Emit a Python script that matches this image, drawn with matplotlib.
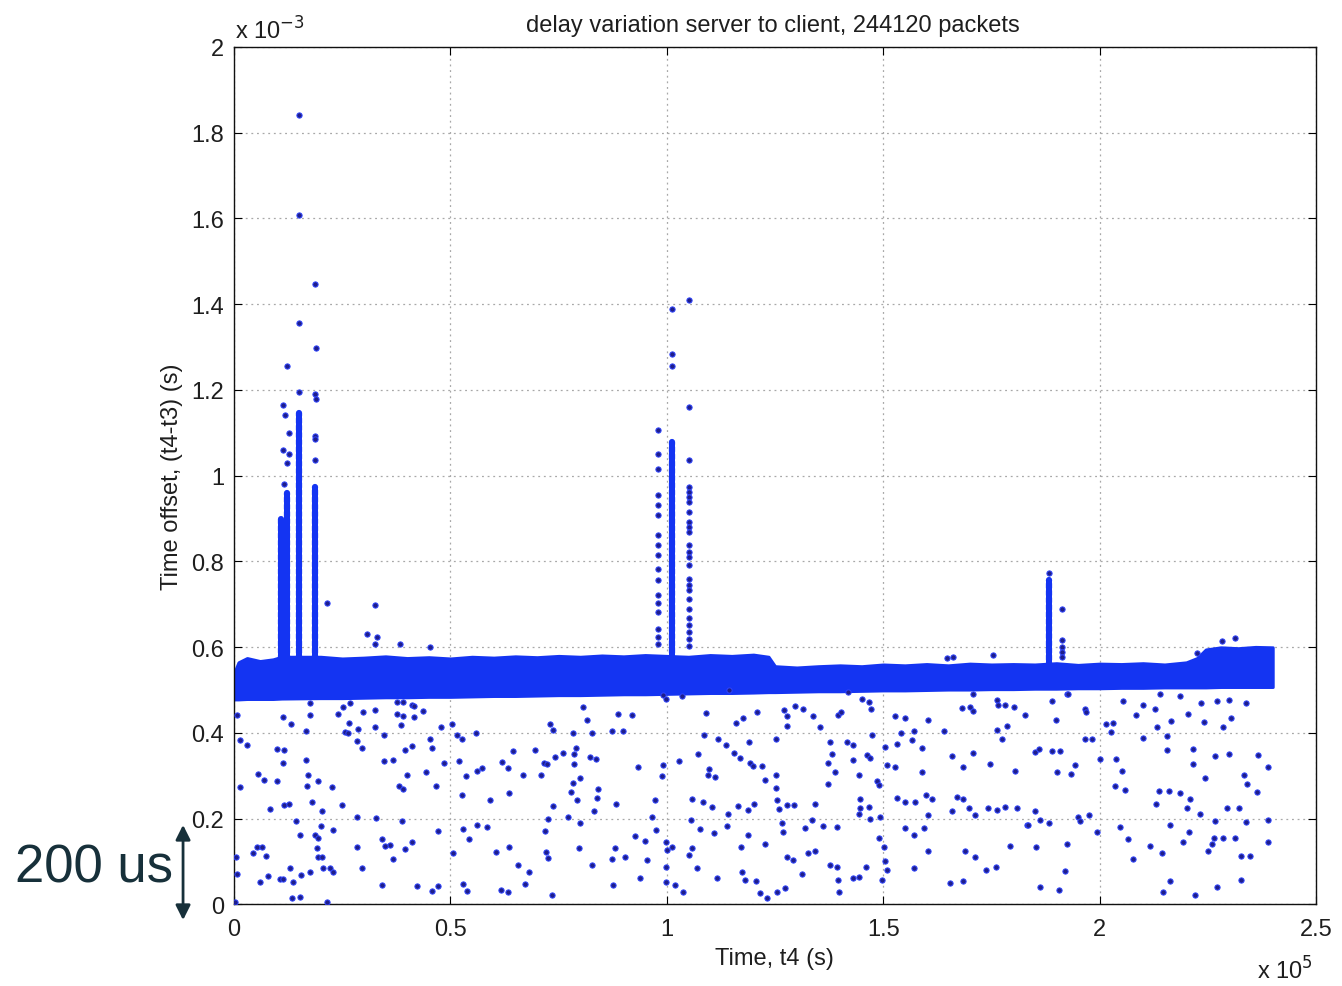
"""Delay variation scatter (server to client), MATLAB-style look."""

import matplotlib

matplotlib.use("Agg")
import matplotlib.pyplot as plt

plt.rcParams["font.family"] = ["Liberation Sans", "DejaVu Sans"]

# units: x in 1e5 s, y in 1e-3 s
# dense band of packets (upper / lower edge)
band_x = [0.00, 0.01, 0.03, 0.06, 0.09, 0.11, 0.20, 0.25, 0.30, 0.35, 0.40, 0.45,
          0.50, 0.55, 0.60, 0.65, 0.70, 0.75, 0.80, 0.85, 0.90, 0.95, 1.00, 1.05,
          1.10, 1.15, 1.20, 1.235, 1.25, 1.30, 1.35, 1.40, 1.45, 1.50, 1.55, 1.60,
          1.65, 1.70, 1.75, 1.80, 1.85, 1.90, 1.95, 2.00, 2.05, 2.10, 2.15, 2.20,
          2.225, 2.245, 2.28, 2.32, 2.36, 2.40]
band_hi = [0.540, 0.565, 0.575, 0.568, 0.572, 0.578, 0.578, 0.574, 0.576, 0.579, 0.575, 0.577,
           0.574, 0.578, 0.576, 0.579, 0.577, 0.580, 0.578, 0.581, 0.579, 0.582, 0.580, 0.578,
           0.582, 0.580, 0.583, 0.578, 0.556, 0.553, 0.556, 0.558, 0.556, 0.560, 0.558, 0.561,
           0.558, 0.562, 0.560, 0.561, 0.560, 0.563, 0.559, 0.562, 0.561, 0.563, 0.560, 0.565,
           0.575, 0.595, 0.600, 0.598, 0.601, 0.600]
band_lo = [0.478, 0.478, 0.479, 0.479, 0.479, 0.480, 0.481, 0.481, 0.482, 0.483, 0.483, 0.484,
           0.484, 0.485, 0.486, 0.486, 0.487, 0.488, 0.488, 0.489, 0.490, 0.490, 0.491, 0.492,
           0.493, 0.493, 0.494, 0.495, 0.495, 0.496, 0.497, 0.497, 0.498, 0.499, 0.499, 0.500,
           0.501, 0.501, 0.502, 0.502, 0.503, 0.503, 0.504, 0.504, 0.505, 0.505, 0.506, 0.506,
           0.506, 0.506, 0.507, 0.507, 0.507, 0.507]

# dense vertical bursts
spike_x = [0.108, 0.122, 0.149, 0.188, 1.011, 1.882]
spike_base = [0.57, 0.57, 0.57, 0.57, 0.57, 0.555]
spike_top = [0.90, 0.96, 1.147, 0.974, 1.078, 0.756]

# sparse packets inside / above the bursts
burst_x = [0.114, 0.122, 0.118, 0.126, 0.114, 0.122, 0.116, 0.128,
           0.149, 0.149, 0.149, 0.149,
           0.187, 0.189, 0.186, 0.189, 0.188, 0.188, 0.188,
           0.980, 0.980, 0.980, 0.980, 0.980, 0.980, 0.980, 0.980, 0.980,
           0.980, 0.980, 0.980, 0.980, 0.980, 0.980, 0.980, 0.980,
           1.013, 1.013, 1.013,
           1.050, 1.050, 1.050, 1.050, 1.050, 1.050, 1.050, 1.050, 1.050,
           1.050, 1.050, 1.050, 1.050, 1.050, 1.050, 1.050, 1.050, 1.050,
           1.050, 1.050, 1.050, 1.050, 1.050, 1.050, 1.050,
           1.882, 1.914, 1.914, 1.914, 1.914, 1.914]
burst_y = [1.166, 1.256, 1.142, 1.100, 1.060, 1.030, 0.980, 1.050,
           1.196, 1.356, 1.607, 1.841,
           1.448, 1.297, 1.190, 1.178, 1.093, 1.085, 1.036,
           1.106, 1.051, 1.016, 0.954, 0.931, 0.908, 0.861, 0.838, 0.814,
           0.783, 0.756, 0.721, 0.702, 0.682, 0.643, 0.624, 0.608,
           1.389, 1.284, 1.256,
           1.409, 1.160, 1.036, 0.974, 0.962, 0.950, 0.939, 0.915, 0.892,
           0.880, 0.869, 0.838, 0.822, 0.810, 0.791, 0.760, 0.744, 0.733,
           0.713, 0.690, 0.667, 0.651, 0.636, 0.620, 0.604,
           0.772, 0.690, 0.616, 0.601, 0.590, 0.578]

# isolated packets above the band
high_x = [0.215, 0.326, 0.307, 0.330, 0.326, 0.384, 0.453, 1.754, 1.647, 1.662,
          2.282, 2.313, 2.224]
high_y = [0.704, 0.698, 0.632, 0.624, 0.608, 0.608, 0.601, 0.581, 0.575, 0.577,
          0.614, 0.622, 0.587]

# isolated packets below the band
low_x = [0.176, 0.268, 0.251, 0.241, 0.006, 0.114, 0.176, 0.131, 0.266, 0.297, 0.326, 0.376,
         0.391, 0.410, 0.416, 0.376, 0.391, 0.416, 0.436, 0.386, 0.326, 0.166, 0.256, 0.264,
         0.286, 0.283, 0.295, 0.347, 0.453, 0.457, 0.478, 0.503, 0.514, 0.526, 0.559, 0.014,
         0.029, 0.099, 0.116, 0.114, 0.166, 0.172, 0.056, 0.070, 0.100, 0.014, 0.169, 0.195,
         0.226, 0.347, 0.368, 0.395, 0.410, 0.444, 0.382, 0.391, 0.400, 0.466, 0.484, 0.519,
         0.526, 0.535, 0.561, 0.574, 0.591, 0.618, 0.634, 0.636, 0.644, 0.667, 0.695, 0.709,
         0.715, 0.724, 0.729, 0.736, 0.742, 0.759, 0.784, 0.786, 0.790, 0.786, 0.799, 0.784,
         0.778, 0.792, 0.842, 0.838, 0.823, 0.836, 0.826, 0.815, 0.807, 0.873, 0.886, 0.898,
         0.883, 0.832, 0.736, 0.726, 0.719, 0.772, 0.799, 0.796, 0.721, 0.726, 0.826, 0.873,
         0.880, 0.903, 0.876, 0.734, 0.635, 0.657, 0.682, 0.673, 0.634, 0.616, 0.605, 0.561,
         0.584, 0.544, 0.528, 0.505, 0.530, 0.538, 0.457, 0.471, 0.471, 0.410, 0.395, 0.368,
         0.360, 0.349, 0.341, 0.283, 0.295, 0.341, 0.422, 0.389, 0.327, 0.283, 0.250, 0.203,
         0.179, 0.116, 0.126, 0.142, 0.083, 0.152, 0.187, 0.195, 0.191, 0.195, 0.203, 0.200,
         0.228, 0.205, 0.222, 0.228, 0.176, 0.154, 0.129, 0.106, 0.112, 0.136, 0.059, 0.079,
         0.043, 0.052, 0.064, 0.074, 0.005, 0.006, 0.133, 0.152, 0.214, 0.002,
         0.992, 0.998, 1.036, 1.144, 0.919, 1.091, 1.160, 1.177, 1.208, 1.271, 1.278, 1.296,
         1.315, 1.337, 1.277, 1.354, 1.396, 1.402, 1.419, 1.450, 1.466, 1.471, 1.527, 1.550,
         1.604, 1.640, 1.681, 1.701, 1.707, 1.708, 1.762, 1.766, 1.781, 1.801, 1.828, 1.762,
         1.774, 1.785, 1.086, 1.119, 1.137, 1.154, 1.169, 1.190, 1.251, 1.191, 1.198, 1.219,
         1.227, 1.251, 1.251, 1.254, 1.258, 1.277, 1.293, 1.342, 1.376, 1.381, 1.373, 1.389,
         1.373, 1.417, 1.429, 1.429, 1.463, 1.470, 1.443, 1.485, 1.489, 1.473, 1.508, 1.527,
         1.504, 1.531, 1.540, 1.570, 1.566, 1.589, 1.589, 1.599, 1.612, 1.604, 1.658, 1.684,
         1.708, 1.747, 1.805, 1.670, 1.685, 1.697, 1.712, 1.658, 1.743, 1.762, 1.781, 1.808,
         1.831, 1.531, 1.550, 1.574, 1.593, 1.570, 1.550, 1.493, 1.470, 1.489, 1.502, 1.504,
         1.508, 1.498, 1.446, 1.443, 1.468, 1.446, 1.392, 1.360, 1.335, 1.319, 1.327, 1.342,
         1.277, 1.292, 1.201, 1.188, 1.165, 1.142, 1.138, 1.108, 1.096, 1.111, 1.098, 1.077,
         1.057, 1.084, 1.104, 1.073, 1.028, 0.990, 0.988, 0.934, 0.973, 0.965, 0.975, 0.927,
         0.950, 0.955, 0.937, 0.998, 1.001, 1.011, 0.998, 0.998, 1.019, 1.038, 1.056, 1.057,
         1.052, 1.069, 1.115, 1.173, 1.181, 1.206, 1.171, 1.188, 1.227, 1.269, 1.265, 1.215,
         1.231, 1.254, 1.273, 1.312, 1.376, 1.392, 1.396, 1.398, 1.431, 1.443, 1.460, 1.570,
         1.603, 1.654, 1.685, 1.689, 1.712, 1.738, 1.761, 1.793,
         1.889, 1.899, 1.925, 1.966, 1.969, 1.966, 1.982, 1.851, 1.859, 1.889, 1.908, 1.902,
         1.933, 1.943, 1.851, 1.835, 1.862, 1.882, 1.951, 1.955, 1.976, 1.993, 1.853, 1.924,
         1.920, 1.862, 1.905, 2.015, 2.030, 2.026, 2.053, 2.084, 2.100, 2.101, 2.128, 2.132,
         2.140, 2.155, 2.155, 2.164, 2.186, 2.205, 2.215, 2.215, 2.234, 2.241, 2.272, 2.298,
         2.284, 2.303, 2.338, 2.267, 2.298, 2.365, 2.388, 2.334, 2.340, 2.363, 2.244, 2.001,
         2.038, 2.051, 2.036, 2.059, 2.138, 2.159, 2.186, 2.209, 2.201, 2.232, 2.130, 2.295,
         2.323, 2.267, 2.338, 2.390, 2.263, 2.284, 2.313, 2.259, 2.251, 2.326, 2.348, 2.390,
         2.047, 2.066, 2.078, 2.117, 2.145, 2.192, 2.207, 2.163, 2.163, 2.146, 2.221, 2.270,
         2.326, 1.926]
low_y = [0.469, 0.469, 0.461, 0.445, 0.441, 0.437, 0.441, 0.420, 0.424, 0.448, 0.453, 0.472,
         0.472, 0.466, 0.463, 0.445, 0.440, 0.437, 0.451, 0.418, 0.414, 0.404, 0.402, 0.399,
         0.410, 0.381, 0.365, 0.396, 0.387, 0.365, 0.414, 0.420, 0.395, 0.385, 0.399, 0.383,
         0.371, 0.362, 0.360, 0.329, 0.338, 0.303, 0.305, 0.291, 0.287, 0.274, 0.277, 0.287,
         0.274, 0.335, 0.338, 0.360, 0.369, 0.309, 0.277, 0.270, 0.303, 0.276, 0.329, 0.335,
         0.255, 0.299, 0.311, 0.319, 0.244, 0.333, 0.319, 0.260, 0.357, 0.303, 0.360, 0.301,
         0.331, 0.327, 0.420, 0.406, 0.343, 0.354, 0.401, 0.351, 0.364, 0.327, 0.295, 0.284,
         0.263, 0.243, 0.270, 0.249, 0.344, 0.340, 0.399, 0.430, 0.461, 0.405, 0.444, 0.405,
         0.234, 0.218, 0.229, 0.200, 0.172, 0.203, 0.191, 0.132, 0.123, 0.109, 0.092, 0.107,
         0.131, 0.111, 0.045, 0.022, 0.134, 0.092, 0.076, 0.047, 0.030, 0.033, 0.123, 0.185,
         0.181, 0.152, 0.176, 0.121, 0.047, 0.031, 0.031, 0.044, 0.172, 0.145, 0.129, 0.105,
         0.138, 0.137, 0.152, 0.134, 0.085, 0.045, 0.044, 0.195, 0.202, 0.204, 0.233, 0.219,
         0.238, 0.233, 0.234, 0.195, 0.222, 0.162, 0.162, 0.156, 0.131, 0.110, 0.110, 0.183,
         0.173, 0.085, 0.085, 0.076, 0.076, 0.068, 0.085, 0.059, 0.059, 0.053, 0.053, 0.067,
         0.119, 0.134, 0.134, 0.113, 0.110, 0.072, 0.016, 0.018, 0.006, 0.005,
         0.488, 0.480, 0.486, 0.500, 0.441, 0.447, 0.423, 0.435, 0.449, 0.453, 0.440, 0.463,
         0.457, 0.440, 0.416, 0.414, 0.443, 0.448, 0.496, 0.480, 0.472, 0.457, 0.440, 0.435,
         0.431, 0.404, 0.458, 0.461, 0.451, 0.490, 0.478, 0.465, 0.466, 0.461, 0.441, 0.406,
         0.385, 0.416, 0.395, 0.385, 0.371, 0.354, 0.342, 0.379, 0.385, 0.329, 0.323, 0.323,
         0.290, 0.301, 0.272, 0.243, 0.222, 0.233, 0.232, 0.235, 0.379, 0.350, 0.330, 0.309,
         0.282, 0.379, 0.371, 0.338, 0.348, 0.342, 0.301, 0.287, 0.278, 0.395, 0.325, 0.321,
         0.368, 0.375, 0.400, 0.404, 0.383, 0.365, 0.309, 0.256, 0.247, 0.208, 0.347, 0.321,
         0.354, 0.327, 0.311, 0.251, 0.247, 0.224, 0.208, 0.218, 0.224, 0.221, 0.228, 0.224,
         0.186, 0.249, 0.239, 0.238, 0.179, 0.162, 0.179, 0.204, 0.200, 0.154, 0.134, 0.101,
         0.080, 0.057, 0.224, 0.212, 0.228, 0.247, 0.181, 0.183, 0.197, 0.179, 0.119, 0.125,
         0.111, 0.103, 0.235, 0.220, 0.230, 0.212, 0.183, 0.166, 0.301, 0.298, 0.315, 0.176,
         0.247, 0.239, 0.228, 0.350, 0.335, 0.325, 0.300, 0.321, 0.243, 0.204, 0.173, 0.160,
         0.148, 0.103, 0.062, 0.146, 0.127, 0.134, 0.088, 0.053, 0.045, 0.030, 0.198, 0.132,
         0.115, 0.085, 0.061, 0.076, 0.057, 0.054, 0.134, 0.162, 0.140, 0.169, 0.189, 0.026,
         0.016, 0.030, 0.039, 0.070, 0.093, 0.088, 0.058, 0.030, 0.061, 0.064, 0.088, 0.085,
         0.125, 0.049, 0.054, 0.124, 0.111, 0.080, 0.088, 0.137,
         0.474, 0.431, 0.490, 0.457, 0.449, 0.387, 0.387, 0.356, 0.362, 0.357, 0.357, 0.309,
         0.305, 0.325, 0.218, 0.185, 0.197, 0.191, 0.204, 0.194, 0.208, 0.168, 0.134, 0.140,
         0.078, 0.041, 0.033, 0.420, 0.424, 0.402, 0.474, 0.441, 0.465, 0.389, 0.457, 0.414,
         0.490, 0.392, 0.360, 0.427, 0.486, 0.445, 0.362, 0.327, 0.469, 0.426, 0.474, 0.478,
         0.414, 0.435, 0.471, 0.347, 0.352, 0.348, 0.321, 0.303, 0.282, 0.263, 0.295, 0.339,
         0.339, 0.311, 0.277, 0.267, 0.264, 0.264, 0.259, 0.245, 0.224, 0.210, 0.235, 0.224,
         0.224, 0.194, 0.193, 0.197, 0.155, 0.154, 0.154, 0.140, 0.124, 0.113, 0.113, 0.146,
         0.181, 0.152, 0.107, 0.137, 0.119, 0.145, 0.169, 0.185, 0.054, 0.030, 0.023, 0.041,
         0.057, 0.490]

x_ticks = [0, 0.5, 1, 1.5, 2, 2.5]
y_ticks = [0, 0.2, 0.4, 0.6, 0.8, 1, 1.2, 1.4, 1.6, 1.8, 2]

BLUE = "#1434f2"
DOT_FACE = "#1e1e8c"
DOT_EDGE = "#2f45ff"
TEXT = "#1e1e1e"
FS = 17

fig = plt.figure(figsize=(13.42, 9.87), dpi=100)
ax = fig.add_axes([0.1744, 0.0826, 0.8063, 0.8688])

ax.fill_between(band_x, band_lo, band_hi, color=BLUE, lw=2, edgecolor=BLUE, zorder=2)
# bursts look like stacked dots, so use a beaded line
spikes = ax.vlines(spike_x, spike_base, spike_top, color=BLUE, lw=4.5,
                   linestyles=[(0, (0.7, 0.45))], zorder=2)
spikes.set_capstyle("round")

dot = dict(ls="none", marker="o", ms=3.8, mfc=DOT_FACE, mec=DOT_EDGE, mew=0.7, zorder=3)
ax.plot(low_x, low_y, **dot)
ax.plot(high_x, high_y, **dot)
ax.plot(burst_x, burst_y, **dot)

ax.set_xlim(0, 2.5)
ax.set_ylim(0, 2)
ax.set_xticks(x_ticks)
ax.set_xticklabels([f"{v:g}" for v in x_ticks])
ax.set_yticks(y_ticks)
ax.set_yticklabels([f"{v:g}" for v in y_ticks])
ax.tick_params(direction="in", length=6, top=True, right=True,
               labelsize=FS, labelcolor=TEXT)
ax.tick_params(axis="x", pad=10)
ax.tick_params(axis="y", pad=7)
ax.grid(True, color="#a8a8a8", linestyle=(0, (1.5, 3)), lw=0.9)
ax.set_axisbelow(True)
for s in ax.spines.values():
    s.set_color("#111111")
    s.set_linewidth(1.0)

# MATLAB-style texts placed around the axes
fig.text(0.576, 0.968, "delay variation server to client, 244120 packets",
         ha="center", va="baseline", fontsize=FS, color=TEXT)
fig.text(0.577, 0.022, "Time, t4 (s)", ha="center", va="baseline", fontsize=FS, color=TEXT)
fig.text(0.128, 0.517, "Time offset, (t4-t3) (s)", rotation=90,
         ha="center", va="center", fontsize=FS, color=TEXT)
fig.text(0.175, 0.960, r"x 10$^{-3}$", ha="left", va="baseline", fontsize=FS, color=TEXT)
fig.text(0.937, 0.008, r"x 10$^{5}$", ha="left", va="baseline", fontsize=FS, color=TEXT)

# scale annotation on the left
fig.text(0.011, 0.106, "200 us", ha="left", va="baseline", fontsize=38, color="#17303a")
fig.add_artist(matplotlib.patches.FancyArrowPatch(
    (0.1364, 0.064), (0.1364, 0.166), transform=fig.transFigure,
    arrowstyle="<|-|>", mutation_scale=22, color="#17303a", lw=2))

fig.savefig("out.png", dpi=100)
